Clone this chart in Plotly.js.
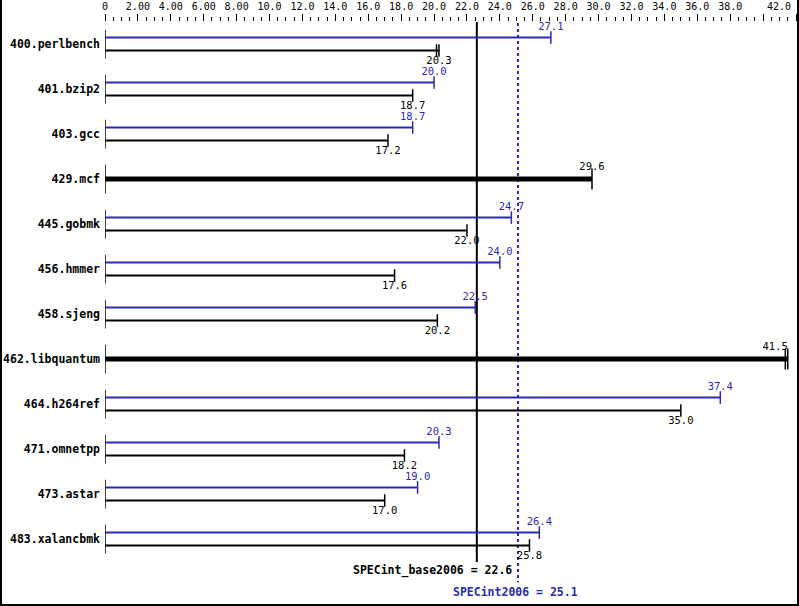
<!DOCTYPE html>
<html>
<head>
<meta charset="utf-8">
<script src="https://cdn.plot.ly/plotly-3.0.1.min.js"></script>
<style>
  html, body { margin: 0; padding: 0; background: #fff; }
  #wrap { position: relative; width: 799px; height: 606px; }
  #chart { position: absolute; left: 0; top: 0; width: 799px; height: 606px; }
  #frame { position: absolute; left: 0; top: 0; width: 799px; height: 606px; box-sizing: border-box;
           border-left: 2px solid #000; border-right: 2px solid #000; border-bottom: 2px solid #000; pointer-events: none; }
</style>
</head>
<body>
<div id="wrap"><div id="chart"></div><div id="frame"></div></div>
<script>
// ---- data ----
const benchmarks = ["400.perlbench", "401.bzip2", "403.gcc", "429.mcf", "445.gobmk", "456.hmmer",
                    "458.sjeng", "462.libquantum", "464.h264ref", "471.omnetpp", "473.astar", "483.xalancbmk"];
const baseScores = [20.3, 18.7, 17.2, 29.6, 22.0, 17.6, 20.2, 41.5, 35.0, 18.2, 17.0, 25.8];
const peakScores = [27.1, 20.0, 18.7, 29.6, 24.7, 24.0, 22.5, 41.5, 37.4, 20.3, 19.0, 26.4];
const baseOtherRun = [20.15, null, null, null, null, null, null, 41.35, null, null, null, null];
const baseOverall = 22.6;
const peakOverall = 25.1;
const majorTicks = [0, 2, 4, 6, 8, 10, 12, 14, 16, 18, 20, 22, 24, 26, 28, 30, 32, 34, 36, 38, 40, 42];
const majorTickText = ["0", "2.00", "4.00", "6.00", "8.00", "10.0", "12.0", "14.0", "16.0", "18.0", "20.0",
                       "22.0", "24.0", "26.0", "28.0", "30.0", "32.0", "34.0", "36.0", "38.0", "", ""];
const lastTickLabel = "42.0";
const baseLabel = "SPECint_base2006 = " + baseOverall.toFixed(1);
const peakLabel = "SPECint2006 = " + peakOverall.toFixed(1);

// ---- styling ----
const BLUE = "#2a2ab0";
const BLACK = "#000000";
const FONT = "DejaVu Sans Mono, Liberation Mono, monospace";
const OFF = 0.144;     // offset of the two bars in a row (rows are 1 unit apart)
const LOFF = 0.38;     // offset of value labels
const XMAX = 42;

const peakLine = {x: [], y: []}, baseLine = {x: [], y: []}, thickLine = {x: [], y: []}, startSeg = {x: [], y: []};
const peakCap = {x: [], y: []}, baseCap = {x: [], y: []}, thickCap = {x: [], y: []};
const peakTxt = {x: [], y: [], t: [], p: []}, baseTxt = {x: [], y: [], t: [], p: []};
const posFor = v => (v > XMAX - 1 ? "middle left" : "middle center");

benchmarks.forEach((b, i) => {
  startSeg.x.push(0, 0, null); startSeg.y.push(i - 0.32, i + 0.32, null);
  const pv = peakScores[i], bv = baseScores[i];
  if (pv === bv) {
    thickLine.x.push(0, bv, null); thickLine.y.push(i, i, null);
    thickCap.x.push(bv); thickCap.y.push(i);
    if (baseOtherRun[i] != null) { thickCap.x.push(baseOtherRun[i]); thickCap.y.push(i); }
    baseTxt.x.push(bv); baseTxt.y.push(i - 0.27); baseTxt.t.push(bv.toFixed(1)); baseTxt.p.push(posFor(bv));
  } else {
    peakLine.x.push(0, pv, null); peakLine.y.push(i - OFF, i - OFF, null);
    baseLine.x.push(0, bv, null); baseLine.y.push(i + OFF, i + OFF, null);
    peakCap.x.push(pv); peakCap.y.push(i - OFF);
    baseCap.x.push(bv); baseCap.y.push(i + OFF);
    if (baseOtherRun[i] != null) { baseCap.x.push(baseOtherRun[i]); baseCap.y.push(i + OFF); }
    peakTxt.x.push(pv); peakTxt.y.push(i - LOFF); peakTxt.t.push(pv.toFixed(1)); peakTxt.p.push(posFor(pv));
    baseTxt.x.push(bv); baseTxt.y.push(i + LOFF); baseTxt.t.push(bv.toFixed(1)); baseTxt.p.push(posFor(bv));
  }
});

const n = benchmarks.length;
const capMarker = (color, size) => ({symbol: "line-ns-open", size: size, color: color, line: {color: color, width: 1.5}});
const traces = [
  {x: startSeg.x, y: startSeg.y, mode: "lines", line: {color: BLACK, width: 1.5}},
  {x: [baseOverall, baseOverall], y: [-0.6, n - 0.49], mode: "lines", line: {color: BLACK, width: 2}},
  {x: [peakOverall, peakOverall], y: [-0.6, n - 0.04], mode: "lines", line: {color: BLUE, width: 2, dash: "dot"}},
  {x: peakLine.x, y: peakLine.y, mode: "lines", line: {color: BLUE, width: 2}},
  {x: baseLine.x, y: baseLine.y, mode: "lines", line: {color: BLACK, width: 2}},
  {x: thickLine.x, y: thickLine.y, mode: "lines", line: {color: BLACK, width: 5}},
  {x: peakCap.x, y: peakCap.y, mode: "markers", marker: capMarker(BLUE, 9), cliponaxis: false},
  {x: baseCap.x, y: baseCap.y, mode: "markers", marker: capMarker(BLACK, 9), cliponaxis: false},
  {x: thickCap.x, y: thickCap.y, mode: "markers", marker: capMarker(BLACK, 15), cliponaxis: false},
  {x: peakTxt.x, y: peakTxt.y, text: peakTxt.t, mode: "text", textposition: peakTxt.p, cliponaxis: false,
   textfont: {family: FONT, size: 10.5, color: BLUE}},
  {x: baseTxt.x, y: baseTxt.y, text: baseTxt.t, mode: "text", textposition: baseTxt.p, cliponaxis: false,
   textfont: {family: FONT, size: 10.5, color: BLACK}}
];

const layout = {
  width: 799, height: 606,
  margin: {l: 105, r: 3, t: 22, b: 1, pad: 0},
  paper_bgcolor: "#ffffff", plot_bgcolor: "#ffffff",
  showlegend: false,
  font: {family: FONT, size: 10, color: BLACK},
  xaxis: {
    side: "top", range: [0, XMAX], showgrid: false, zeroline: false, showline: false,
    tickmode: "array", tickvals: majorTicks, ticktext: majorTickText,
    ticks: "outside", ticklen: 7, tickwidth: 1, tickcolor: BLACK,
    tickfont: {family: FONT, size: 10, color: BLACK},
    minor: {dtick: 0.5, tick0: 0, ticks: "outside", ticklen: 4, tickwidth: 1, tickcolor: BLACK, showgrid: false}
  },
  yaxis: {
    range: [n + 0.466, -0.49], showgrid: false, zeroline: false, showline: false,
    tickmode: "array", tickvals: benchmarks.map((b, i) => i), ticktext: benchmarks,
    ticks: "", ticklabelstandoff: 4,
    tickfont: {family: FONT, size: 11.5, color: BLACK, weight: "bold"}
  },
  annotations: [
    {x: XMAX, y: 1, xref: "x", yref: "paper", yanchor: "bottom", xanchor: "right", xshift: -3, yshift: 8,
     text: lastTickLabel, showarrow: false, font: {family: FONT, size: 10, color: BLACK}},
    {x: peakOverall, y: n - 0.29, xref: "x", yref: "y", xanchor: "right", yanchor: "middle", xshift: -4,
     text: baseLabel, showarrow: false, font: {family: FONT, size: 11.5, color: BLACK, weight: "bold"}},
    {x: peakOverall, y: n + 0.18, xref: "x", yref: "y", xanchor: "center", yanchor: "middle", xshift: -2,
     text: peakLabel, showarrow: false, font: {family: FONT, size: 11.5, color: BLUE, weight: "bold"}}
  ]
};

Plotly.newPlot("chart", traces, layout, {displayModeBar: false, staticPlot: true});
</script>
</body>
</html>
